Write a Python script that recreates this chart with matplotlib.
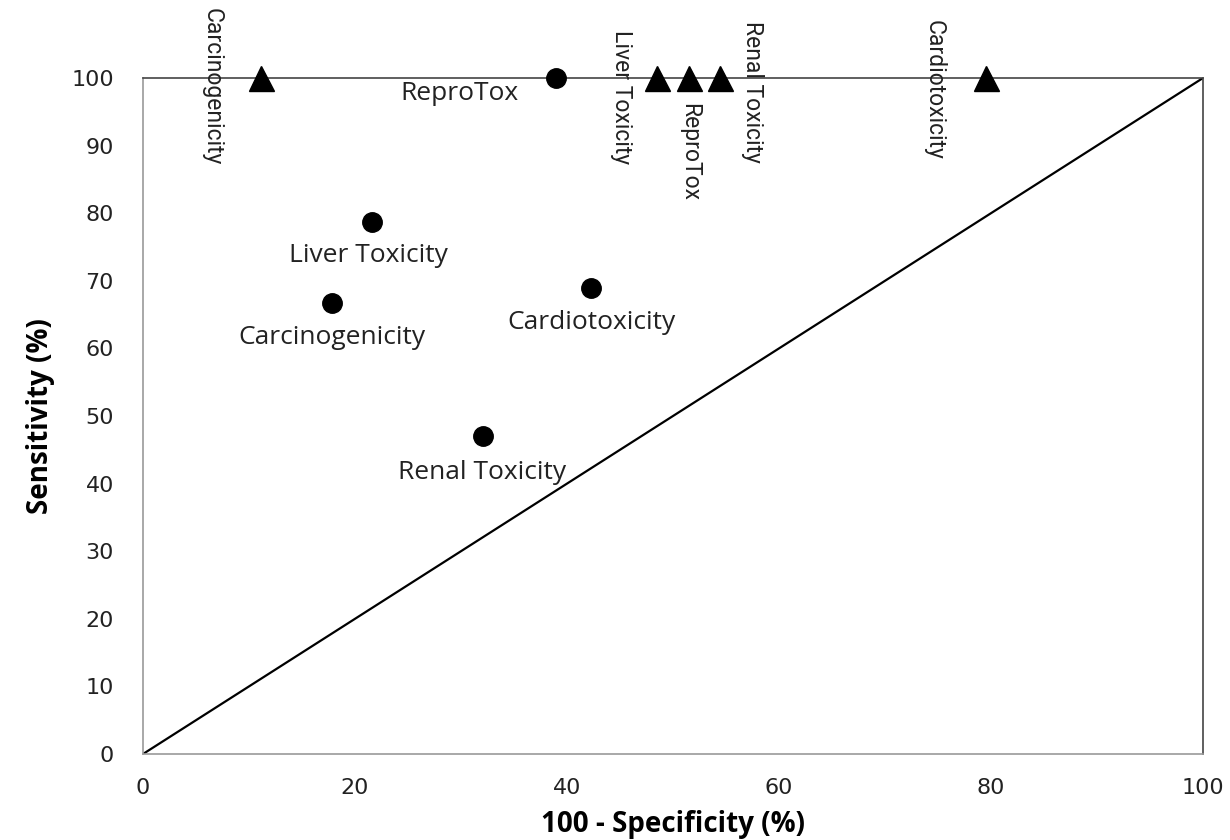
## -*- coding: utf-8 -*-
### ROC-space plot: sensitivity vs 100 - specificity for toxicity endpoints
import matplotlib
matplotlib.use('Agg')
import matplotlib.pyplot as plt

plt.rcParams['font.family'] = ['DejaVu Sans']

### DATA
circle_labels = ['ReproTox', 'Liver Toxicity', 'Carcinogenicity', 'Cardiotoxicity', 'Renal Toxicity']
circle_x = [39.0, 21.6, 17.8, 42.3, 32.1]
circle_y = [100.0, 78.7, 66.7, 69.0, 47.0]

triangle_labels = ['Carcinogenicity', 'Liver Toxicity', 'ReproTox', 'Renal Toxicity', 'Cardiotoxicity']
triangle_x = [11.1, 48.5, 51.5, 54.4, 79.5]
triangle_y = [100.0, 100.0, 100.0, 100.0, 100.0]

diag_x = [0, 100]
diag_y = [0, 100]

x_ticks = [0, 20, 40, 60, 80, 100]
y_ticks = [0, 10, 20, 30, 40, 50, 60, 70, 80, 90, 100]

### LABEL OFFSETS (pixels)
circle_offsets = [(-97, -16), (-4, -34), (0, -34), (0, -35), (-1, -36)]
triangle_offsets = [(-49, -9), (-36, -19), (1, -74), (33, -14), (-52, -12)]

### FIGURE
W, H = 1230, 840
fig = plt.figure(figsize=(W / 100, H / 100), dpi=100)
left, right, top, bottom = 143, 1203, 78, 754
ax = fig.add_axes([left / W, (H - bottom) / H, (right - left) / W, (bottom - top) / H])

ax.plot(diag_x, diag_y, color='black', linewidth=1.6)
ax.plot(circle_x, circle_y, linestyle='none', marker='o', markersize=14,
        color='black', clip_on=False, zorder=5)
ax.plot(triangle_x, triangle_y, linestyle='none', marker='^', markersize=18,
        color='black', clip_on=False, zorder=5)

for lab, x, y, off in zip(circle_labels, circle_x, circle_y, circle_offsets):
    ax.annotate(lab, (x, y), xytext=off, textcoords='offset pixels',
                ha='center', va='center', fontsize=19,
                family=['Open Sans', 'DejaVu Sans'],
                color='#222222', annotation_clip=False)

for lab, x, y, off in zip(triangle_labels, triangle_x, triangle_y, triangle_offsets):
    ax.annotate(lab, (x, y), xytext=off, textcoords='offset pixels',
                ha='center', va='center', rotation=270, fontsize=16.5,
                family=['Liberation Sans Narrow', 'Roboto', 'DejaVu Sans'],
                color='#222222', annotation_clip=False)

ax.set_xlim(0, 100)
ax.set_ylim(0, 100)
ax.set_xticks(x_ticks)
ax.set_yticks(y_ticks)
ax.tick_params(length=0, labelsize=16, labelcolor='#222222')
ax.tick_params(axis='y', pad=21)
ax.tick_params(axis='x', pad=17)

for spine in ['left', 'bottom']:
    ax.spines[spine].set_color('#999999')
for spine in ['top', 'right']:
    ax.spines[spine].set_color('#444444')
for spine in ax.spines.values():
    spine.set_linewidth(1.2)

ax.set_xlabel('100 - Specificity (%)', fontsize=20, fontweight='bold',
              family=['Open Sans', 'DejaVu Sans'])
ax.set_ylabel('Sensitivity (%)', fontsize=20, fontweight='bold',
              family=['Open Sans', 'DejaVu Sans'])
ax.xaxis.set_label_coords(0.5, -0.083)
ax.yaxis.set_label_coords(-0.083, 0.5)

fig.savefig('out.png', dpi=100)
